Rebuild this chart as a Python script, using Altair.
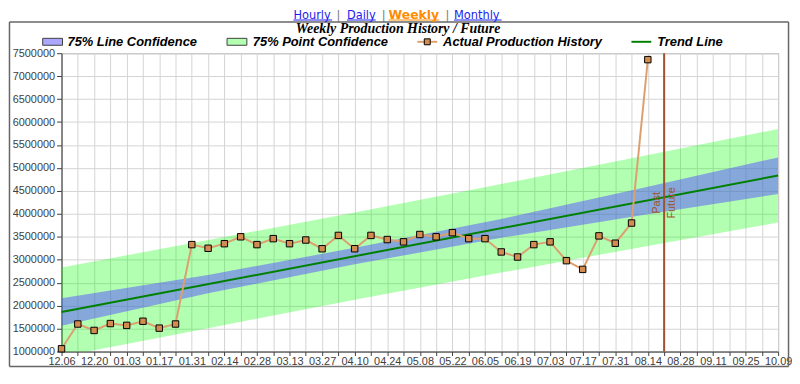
import json
import altair as alt
import pandas as pd

# ---------------- data ----------------
week_labels = ["12.06", "12.20", "01.03", "01.17", "01.31", "02.14", "02.28", "03.13",
               "03.27", "04.10", "04.24", "05.08", "05.22", "06.05", "06.19", "07.03",
               "07.17", "07.31", "08.14", "08.28", "09.11", "09.25", "10.09"]
production = [1060000, 1600000, 1460000, 1610000, 1570000, 1660000, 1510000, 1600000,
              3330000, 3250000, 3350000, 3500000, 3330000, 3460000, 3350000, 3430000,
              3240000, 3530000, 3240000, 3530000, 3440000, 3390000, 3550000, 3500000,
              3590000, 3460000, 3460000, 3170000, 3060000, 3330000, 3390000, 2980000,
              2790000, 3520000, 3360000, 3800000, 7360000]
trend_weeks = [0, 44]
trend_values = [1860000, 4835000]
band_weeks = [0, 9, 18, 27, 36, 44]
line_conf_low = [1560000, 2270000, 2900000, 3480000, 3990000, 4430000]
line_conf_high = [2160000, 2670000, 3260000, 3890000, 4590000, 5230000]
point_conf_low = [890000, 1510000, 2130000, 2720000, 3300000, 3810000]
point_conf_high = [2830000, 3430000, 4030000, 4650000, 5280000, 5850000]
divider_week = 37
divider_labels = ["Past", "Future"]
legend_labels = ["75% Line Confidence", "75% Point Confidence",
                 "Actual Production History", "Trend Line"]
nav_links = ["Hourly", "Daily", "Weekly", "Monthly"]
title_text = "Weekly Production History / Future"
y_ticks = list(range(1000000, 7500001, 500000))

# ---------------- layout (view pixel coordinates) ----------------
nav_x = [234, 288, 330, 396]
nav_w = [39, 29, 51, 48]
sep_x = [277.5, 323, 387.5]
nav_base_y = -35
legend_swatch_x = [-19, 167]
legend_text_x = [6, 193, 385, 601]
legend_line_x = [359, 575]
legend_base_y = -7

COL_GREEN_BAND = "#00ff00"
COL_BLUE_BAND = "#5a50ff"
COL_TREND = "#008000"
COL_ACTUAL = "#dca070"
COL_SQUARE = "#d28c50"
COL_DIV = "#a0522d"
COL_FRAME = "#666666"

one = alt.Data(values=[{"k": 1}])

df_prod = pd.DataFrame({"week": list(range(len(production))), "value": production})
df_trend = pd.DataFrame({"week": trend_weeks, "value": trend_values})
df_band = pd.DataFrame({"week": band_weeks, "llo": line_conf_low, "lhi": line_conf_high,
                        "plo": point_conf_low, "phi": point_conf_high})
df_div = pd.DataFrame({"week": [divider_week]})

label_expr = "datum.value % 2 == 0 ? " + json.dumps(week_labels) + "[datum.value / 2] : ''"

x_axis = alt.Axis(values=list(range(0, 2 * (len(week_labels) - 1) + 1)), labelExpr=label_expr,
                  title=None, grid=True, labelFont="Liberation Sans", labelFontSize=11,
                  labelColor="#404040", tickSize=4, labelPadding=0, labelOverlap=False,
                  labelFlush=False)
y_axis = alt.Axis(values=y_ticks, format="d", title=None, grid=True,
                  labelFont="Liberation Sans", labelFontSize=11, labelColor="#404040",
                  tickSize=5, labelPadding=2)
xs = alt.Scale(domain=[0, 44], nice=False, zero=False)
ys = alt.Scale(domain=[1000000, 7500000], nice=False, zero=False)


def X(f="week"):
    return alt.X(f + ":Q", scale=xs, axis=x_axis)


def Y(f):
    return alt.Y(f + ":Q", scale=ys, axis=y_axis)


point_band = alt.Chart(df_band).mark_area(color=COL_GREEN_BAND, opacity=0.3, clip=True).encode(
    x=X(), y=Y("plo"), y2="phi:Q")
line_band = alt.Chart(df_band).mark_area(color=COL_BLUE_BAND, opacity=0.5, clip=True).encode(
    x=X(), y=Y("llo"), y2="lhi:Q")
trend = alt.Chart(df_trend).mark_line(color=COL_TREND, strokeWidth=2).encode(x=X(), y=Y("value"))
actual_line = alt.Chart(df_prod).mark_line(color=COL_ACTUAL, strokeWidth=2).encode(
    x=X(), y=Y("value"))
actual_pts = alt.Chart(df_prod).mark_square(size=42, color=COL_SQUARE, stroke="#000000",
                                            strokeWidth=1, opacity=1).encode(x=X(), y=Y("value"))
divider = alt.Chart(df_div).mark_rule(color=COL_DIV, strokeWidth=2).encode(
    x=alt.X("week:Q", scale=xs, axis=x_axis))
past_txt = alt.Chart(df_div).mark_text(text=divider_labels[0], angle=270, align="center",
                                       baseline="bottom", dy=-2, color=COL_DIV,
                                       font="Liberation Sans", fontSize=11).encode(
    x=alt.X("week:Q", scale=xs, axis=x_axis), y=alt.value(151))
future_txt = alt.Chart(df_div).mark_text(text=divider_labels[1], angle=270, align="center",
                                         baseline="top", dy=2, color=COL_DIV,
                                         font="Liberation Sans", fontSize=11).encode(
    x=alt.X("week:Q", scale=xs, axis=x_axis), y=alt.value(151))

layers = [point_band, line_band, trend, actual_line, actual_pts, divider, past_txt, future_txt]


def txt(s, x, y, align="left", **kw):
    return alt.Chart(one).mark_text(text=s, align=align, baseline="alphabetic", **kw).encode(
        x=alt.value(x), y=alt.value(y))


def hline(x1, x2, y, color, w=1.0):
    return alt.Chart(one).mark_rule(color=color, strokeWidth=w).encode(
        x=alt.value(x1), x2=alt.value(x2), y=alt.value(y))


def vline(x, y1, y2, color, w=1.0):
    return alt.Chart(one).mark_rule(color=color, strokeWidth=w).encode(
        x=alt.value(x), y=alt.value(y1), y2=alt.value(y2))


# outer frame (drawn as four rules)
FR_L, FR_R, FR_T, FR_B = -52.5, 733.5, -31.5, 316
layers.append(hline(FR_L, FR_R, FR_T, COL_FRAME, 1.5))
layers.append(hline(FR_L, FR_R, FR_B, COL_FRAME, 1.5))
layers.append(vline(FR_L, FR_T, FR_B, COL_FRAME, 1.5))
layers.append(vline(FR_R, FR_T, FR_B, COL_FRAME, 1.5))

# navigation links
for i, name in enumerate(nav_links):
    bold = name == "Weekly"
    col = "#ff8c00" if bold else "#1c1cee"
    layers.append(txt(name, nav_x[i], nav_base_y, color=col, font="DejaVu Sans",
                      fontSize=12.5 if bold else 11.5,
                      fontWeight="bold" if bold else "normal"))
    layers.append(hline(nav_x[i], nav_x[i] + nav_w[i], nav_base_y + 1.5, col, 1))
for sx in sep_x:
    layers.append(txt("|", sx, nav_base_y, color="#777777", font="DejaVu Sans", fontSize=11.5))

# title
layers.append(txt(title_text, 339.5, -20.5, align="center", font="Liberation Serif",
                  fontSize=14, fontWeight="bold", fontStyle="italic", color="#000000"))

# legend
for i, col, op in [(0, COL_BLUE_BAND, 0.5), (1, COL_GREEN_BAND, 0.3)]:
    layers.append(alt.Chart(one).mark_rect(color=col, opacity=op).encode(
        x=alt.value(legend_swatch_x[i]), x2=alt.value(legend_swatch_x[i] + 20),
        y=alt.value(-15), y2=alt.value(-8)))
    layers.append(alt.Chart(one).mark_rect(filled=False, stroke="#404040", strokeWidth=1).encode(
        x=alt.value(legend_swatch_x[i]), x2=alt.value(legend_swatch_x[i] + 20),
        y=alt.value(-15), y2=alt.value(-8)))
layers.append(hline(legend_line_x[0], legend_line_x[0] + 20, -11.5, COL_ACTUAL, 2))
layers.append(alt.Chart(one).mark_square(size=36, color=COL_SQUARE, stroke="#000000",
                                         strokeWidth=1, opacity=1).encode(
    x=alt.value(legend_line_x[0] + 10), y=alt.value(-11.5)))
layers.append(hline(legend_line_x[1], legend_line_x[1] + 20, -11.5, COL_TREND, 2))
for i, lab in enumerate(legend_labels):
    layers.append(txt(lab, legend_text_x[i], legend_base_y, font="Liberation Sans", fontSize=13,
                      fontWeight="bold", fontStyle="italic", color="#000000"))

chart = alt.layer(*layers).properties(
    width=723, height=301,
    autosize=alt.AutoSizeParams(type="none"),
    padding={"left": 54, "top": 44, "right": 14, "bottom": 16},
).configure_view(stroke="#909090", strokeWidth=1).configure_axis(
    gridColor="#d4d4d4", gridWidth=1, domainColor="#404040", tickColor="#404040",
    domainWidth=1)

chart.save("out.html", embed_options={"renderer": "svg", "actions": False})
